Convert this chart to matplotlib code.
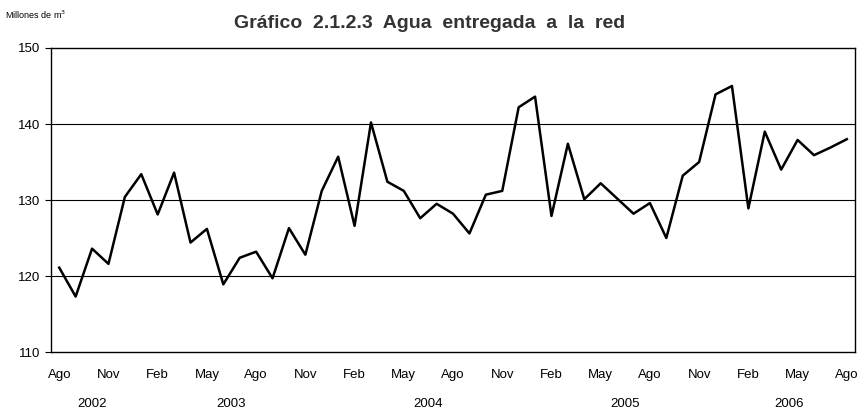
import matplotlib.pyplot as plt
import numpy as np

plt.rcParams['font.family'] = ['Liberation Sans', 'DejaVu Sans']

# monthly values, Ago 2002 .. Ago 2006 (millones de m3)
agua = [121.1, 117.3, 123.6, 121.6, 130.4, 133.4, 128.1, 133.6, 124.4, 126.2,
        118.9, 122.4, 123.2, 119.7, 126.3, 122.8, 131.2, 135.7, 126.6, 140.2,
        132.4, 131.2, 127.6, 129.5, 128.2, 125.6, 130.7, 131.2, 142.2, 143.6,
        127.9, 137.4, 130.1, 132.2, 130.2, 128.2, 129.6, 125.0, 133.2, 135.0,
        143.9, 145.0, 128.9, 139.0, 134.0, 137.9, 135.9, 136.9, 138.0]
mes_labels = ['Ago', 'Nov', 'Feb', 'May'] * 4 + ['Ago']
years = ['2002', '2003', '2004', '2005', '2006']
year_center = [2, 10.5, 22.5, 34.5, 44.5]

x = np.arange(len(agua))

fig = plt.figure(figsize=(8.62, 4.12), dpi=100)
ax = fig.add_axes([0.0592, 0.1456, 0.9327, 0.7379])

for v in [120, 130, 140]:
    ax.axhline(v, color='black', lw=0.8, zorder=1)
ax.plot(x, agua, color='black', lw=1.8, zorder=3)

ax.set_xlim(-0.5, len(agua) - 0.5)
ax.set_ylim(110, 150)
ax.set_yticks([110, 120, 130, 140, 150])
ax.tick_params(axis='y', labelsize=9.5, length=4, width=0.8)
ax.set_xticks(x[::3])
ax.set_xticklabels(mes_labels)
ax.tick_params(axis='x', labelsize=9.5, length=0, pad=12)
for s in ax.spines.values():
    s.set_linewidth(1.0)

for yr, c in zip(years, year_center):
    ax.text(c, -0.15, yr, transform=ax.get_xaxis_transform(),
            ha='center', va='top', fontsize=9.5)

fig.text(0.498, 0.944, 'Gráfico  2.1.2.3  Agua  entregada  a  la  red',
         ha='center', va='center', fontsize=14, fontweight='bold', color='#333333')
fig.text(0.006, 0.965, 'Millones de m$^3$', ha='left', va='center', fontsize=6.5)

fig.savefig('out.png', dpi=100)
